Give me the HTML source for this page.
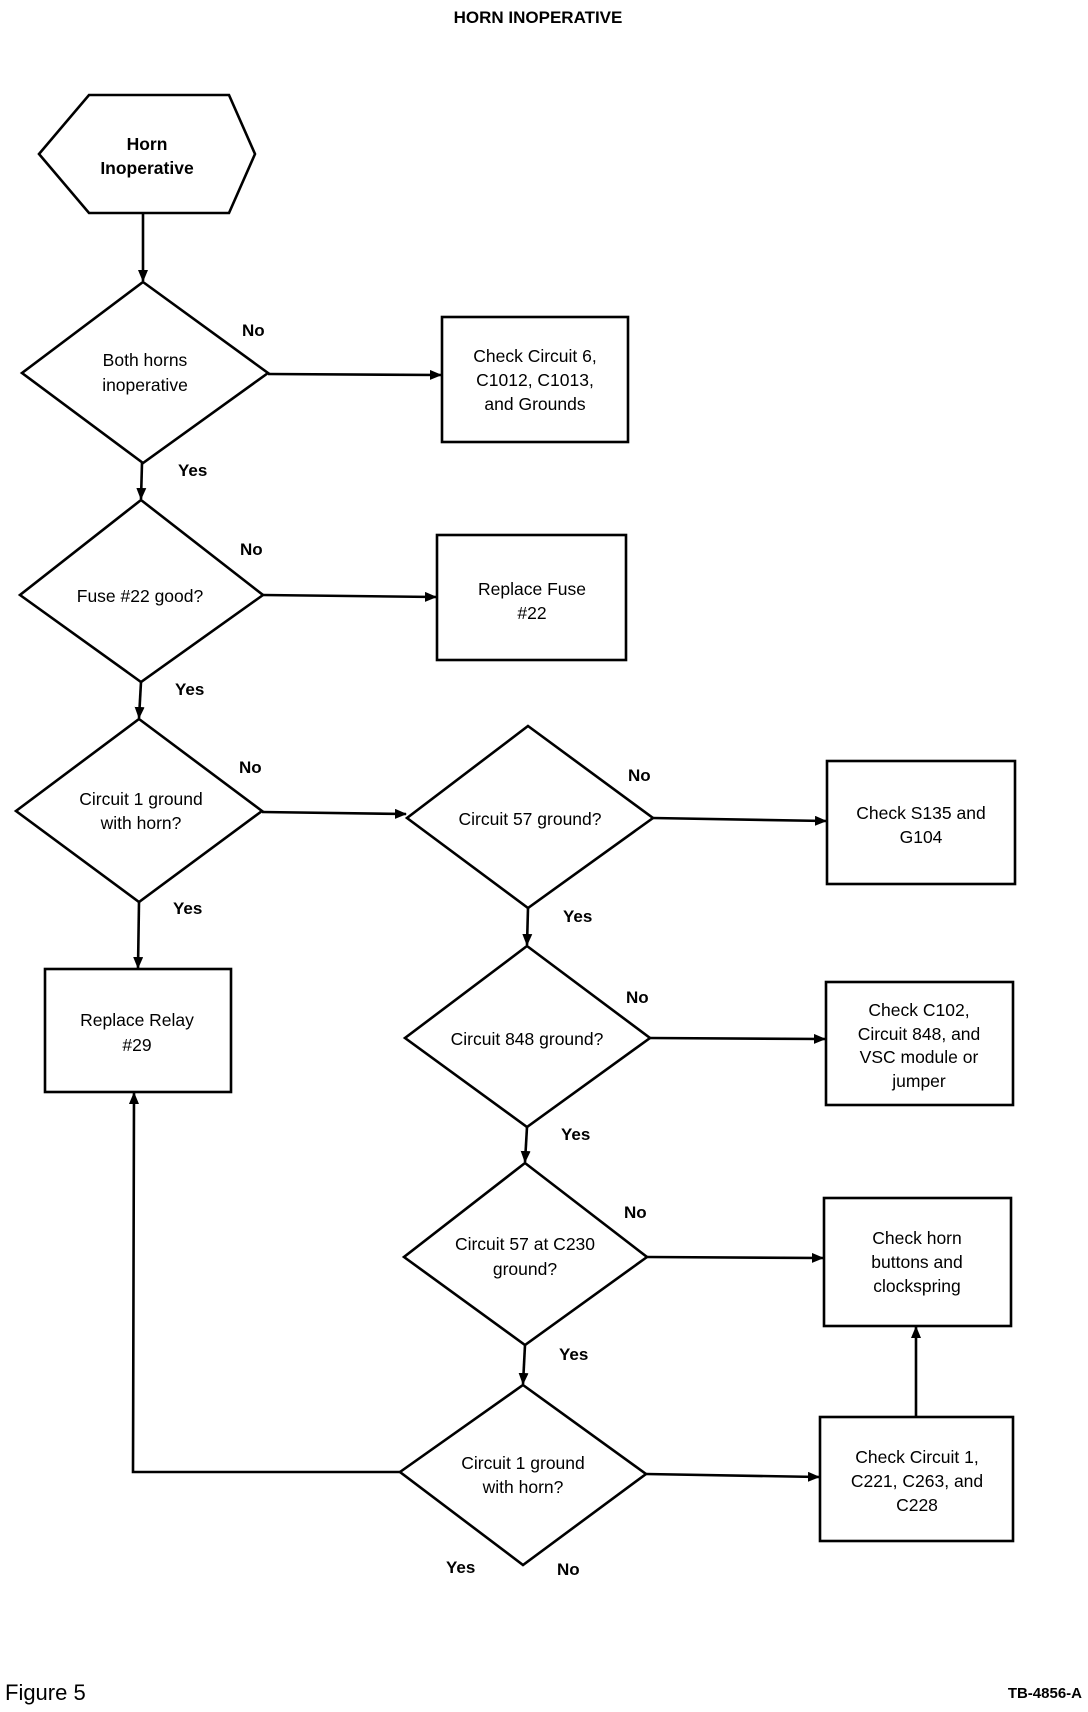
<!DOCTYPE html>
<html><head><meta charset="utf-8"><style>
html,body{margin:0;padding:0;background:#fff;}
svg{display:block;}
text{font-family:"Liberation Sans",Arial,sans-serif;fill:#000;}
.n{font-size:17.5px;text-anchor:middle;}
.l{font-size:17px;font-weight:bold;}
</style></head><body>
<svg width="1088" height="1712" viewBox="0 0 1088 1712" xmlns="http://www.w3.org/2000/svg">
<defs><marker id="a" markerWidth="12" markerHeight="10" refX="11" refY="5" orient="auto" markerUnits="userSpaceOnUse"><path d="M0,0 L12,5 L0,10 z" fill="#000"/></marker></defs>
<g fill="none" stroke="#000" stroke-width="2.6">
<polygon points="89,95 229,95 255,154 229,213 89,213 39,154"/>
<polygon points="143,282 268,373 143,463 22,373"/>
<rect x="442" y="317" width="186" height="125"/>
<polygon points="141,500 263,595 141,682 20,595"/>
<rect x="437" y="535" width="189" height="125"/>
<polygon points="139,719 262,811 139,902 16,811"/>
<polygon points="528,726 653,818 528,908 407,818"/>
<rect x="827" y="761" width="188" height="123"/>
<rect x="45" y="969" width="186" height="123"/>
<polygon points="527,946 650,1038 527,1127 405,1038"/>
<rect x="826" y="982" width="187" height="123"/>
<polygon points="525,1163 647,1257 525,1345 404,1257"/>
<rect x="824" y="1198" width="187" height="128"/>
<polygon points="523,1385 646,1474 523,1565 400,1472"/>
<rect x="820" y="1417" width="193" height="124"/>
<g marker-end="url(#a)">
<line x1="143" y1="213" x2="143" y2="281"/>
<line x1="268" y1="374" x2="441" y2="375"/>
<line x1="142" y1="463" x2="141" y2="499"/>
<line x1="263" y1="595" x2="436" y2="597"/>
<line x1="141" y1="682" x2="139" y2="718"/>
<line x1="262" y1="812" x2="406" y2="814"/>
<line x1="653" y1="818" x2="826" y2="821"/>
<line x1="139" y1="902" x2="138" y2="968"/>
<line x1="528" y1="908" x2="527" y2="945"/>
<line x1="650" y1="1038" x2="825" y2="1039"/>
<line x1="527" y1="1127" x2="525" y2="1162"/>
<line x1="647" y1="1257" x2="823" y2="1258"/>
<line x1="525" y1="1345" x2="523" y2="1384"/>
<line x1="646" y1="1474" x2="819" y2="1477"/>
<line x1="916" y1="1417" x2="916" y2="1327"/>
<polyline points="400,1472 133,1472 134,1093"/>
</g>
</g>
<text x="538" y="23" class="n" style="font-weight:bold;font-size:17px">HORN INOPERATIVE</text>
<text class="n" style="font-weight:bold" x="147" y="150">Horn</text>
<text class="n" style="font-weight:bold" x="147" y="174">Inoperative</text>
<text class="n" x="145" y="366">Both horns</text>
<text class="n" x="145" y="391">inoperative</text>
<text class="n" x="535" y="362">Check Circuit 6,</text>
<text class="n" x="535" y="386">C1012, C1013,</text>
<text class="n" x="535" y="410">and Grounds</text>
<text class="n" x="140" y="602">Fuse #22 good?</text>
<text class="n" x="532" y="595">Replace Fuse</text>
<text class="n" x="532" y="619">#22</text>
<text class="n" x="141" y="805">Circuit 1 ground</text>
<text class="n" x="141" y="829">with horn?</text>
<text class="n" x="530" y="825">Circuit 57 ground?</text>
<text class="n" x="921" y="819">Check S135 and</text>
<text class="n" x="921" y="843">G104</text>
<text class="n" x="137" y="1026">Replace Relay</text>
<text class="n" x="137" y="1051">#29</text>
<text class="n" x="527" y="1045">Circuit 848 ground?</text>
<text class="n" x="919" y="1016">Check C102,</text>
<text class="n" x="919" y="1040">Circuit 848, and</text>
<text class="n" x="919" y="1063">VSC module or</text>
<text class="n" x="919" y="1087">jumper</text>
<text class="n" x="525" y="1250">Circuit 57 at C230</text>
<text class="n" x="525" y="1275">ground?</text>
<text class="n" x="917" y="1244">Check horn</text>
<text class="n" x="917" y="1268">buttons and</text>
<text class="n" x="917" y="1292">clockspring</text>
<text class="n" x="523" y="1469">Circuit 1 ground</text>
<text class="n" x="523" y="1493">with horn?</text>
<text class="n" x="917" y="1463">Check Circuit 1,</text>
<text class="n" x="917" y="1487">C221, C263, and</text>
<text class="n" x="917" y="1511">C228</text>
<text class="l" x="242" y="336">No</text>
<text class="l" x="178" y="476">Yes</text>
<text class="l" x="240" y="555">No</text>
<text class="l" x="175" y="695">Yes</text>
<text class="l" x="239" y="773">No</text>
<text class="l" x="173" y="914">Yes</text>
<text class="l" x="628" y="781">No</text>
<text class="l" x="563" y="922">Yes</text>
<text class="l" x="626" y="1003">No</text>
<text class="l" x="561" y="1140">Yes</text>
<text class="l" x="624" y="1218">No</text>
<text class="l" x="559" y="1360">Yes</text>
<text class="l" x="446" y="1573">Yes</text>
<text class="l" x="557" y="1575">No</text>
<text x="5" y="1700" style="font-size:22px">Figure 5</text>
<text x="1082" y="1698" style="font-size:15px;font-weight:bold;text-anchor:end">TB-4856-A</text>
</svg>
</body></html>
